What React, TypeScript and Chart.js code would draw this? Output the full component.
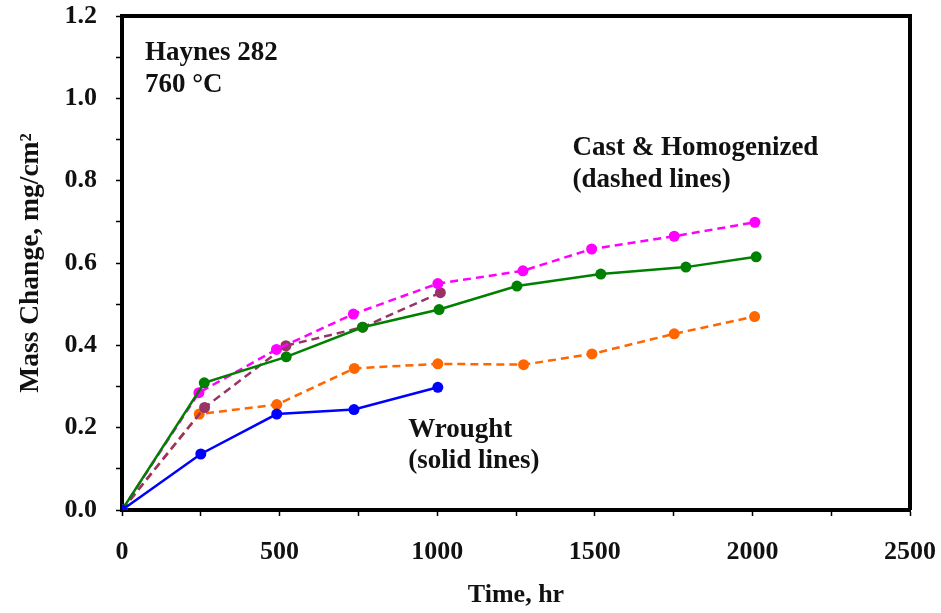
import React, { useEffect, useRef } from 'react';
import { Chart, registerables } from 'chart.js';

Chart.register(...registerables);

// Time (hr) and mass change (mg/cm2) per series
const wroughtBlueT = [0, 250, 491, 736, 1002];
const wroughtBlueV = [0, 0.136, 0.233, 0.244, 0.298];
const wroughtGreenT = [0, 261, 521, 763, 1006, 1253, 1519, 1789, 2012];
const wroughtGreenV = [0, 0.309, 0.372, 0.444, 0.487, 0.544, 0.573, 0.59, 0.615];
const castMagentaT = [0, 244, 490, 734, 1002, 1272, 1490, 1752, 2008];
const castMagentaV = [0, 0.285, 0.39, 0.476, 0.55, 0.581, 0.634, 0.665, 0.699];
const castMaroonT = [0, 262, 520, 764, 1010];
const castMaroonV = [0, 0.249, 0.399, 0.444, 0.528];
const castOrangeT = [0, 245, 491, 737, 1002, 1274, 1491, 1752, 2007];
const castOrangeV = [0, 0.233, 0.256, 0.344, 0.355, 0.353, 0.379, 0.428, 0.47];

// Text annotations anchored in data coordinates (time, mass change)
const noteTexts = ['Haynes 282', '760 \u00B0C', 'Cast & Homogenized', '(dashed lines)', 'Wrought', '(solid lines)'];
const noteT = [73, 73, 1429, 1429, 908, 908];
const noteV = [1.093, 1.015, 0.862, 0.785, 0.177, 0.102];

const FONT = "'Liberation Serif', 'Times New Roman', serif";

const pts = (t: number[], v: number[]) => t.map((x, i) => ({ x, y: v[i] }));

const mk = (label: string, t: number[], v: number[], color: string, dashed: boolean) => ({
  label,
  data: pts(t, v),
  borderColor: color,
  backgroundColor: color,
  pointBackgroundColor: color,
  pointBorderColor: color,
  pointRadius: 5.5,
  pointBorderWidth: 0,
  borderWidth: 2.5,
  borderDash: dashed ? [8, 5] : [],
  showLine: true,
  tension: 0,
  fill: false,
});

const framePlugin = {
  id: 'frameAndNotes',
  afterDraw(chart: any) {
    const { ctx, chartArea } = chart;
    const xs = chart.scales.x;
    const ys = chart.scales.y;
    ctx.save();
    ctx.strokeStyle = '#000';
    ctx.lineWidth = 4;
    ctx.beginPath();
    ctx.moveTo(chartArea.left, chartArea.top);
    ctx.lineTo(chartArea.right, chartArea.top);
    ctx.lineTo(chartArea.right, chartArea.bottom);
    ctx.stroke();
    ctx.fillStyle = '#111';
    ctx.font = `bold 27px ${FONT}`;
    ctx.textAlign = 'left';
    ctx.textBaseline = 'alphabetic';
    noteTexts.forEach((s, i) => {
      ctx.fillText(s, xs.getPixelForValue(noteT[i]), ys.getPixelForValue(noteV[i]));
    });
    ctx.restore();
  },
};

export default function App() {
  const ref = useRef<HTMLCanvasElement>(null);
  useEffect(() => {
    if (!ref.current) return;
    const chart = new Chart(ref.current, {
      type: 'scatter',
      data: {
        datasets: [
          mk('Wrought A', wroughtBlueT, wroughtBlueV, '#0000FF', false),
          mk('Wrought B', wroughtGreenT, wroughtGreenV, '#008000', false),
          mk('Cast A', castMagentaT, castMagentaV, '#FF00FF', true),
          mk('Cast B', castMaroonT, castMaroonV, '#993366', true),
          mk('Cast C', castOrangeT, castOrangeV, '#FF6600', true),
        ] as any,
      },
      options: {
        responsive: false,
        animation: false,
        layout: { padding: { left: 0, top: 16, right: 31, bottom: 0 } },
        plugins: { legend: { display: false }, tooltip: { enabled: false } },
        scales: {
          x: {
            type: 'linear',
            min: 0,
            max: 2500,
            afterFit(scale: any) {
              scale.height = 103;
              scale.paddingLeft = 0;
              scale.paddingRight = 0;
            },
            border: { display: true, color: '#000', width: 4 },
            grid: { display: true, drawOnChartArea: false, drawTicks: true, tickLength: 6, tickColor: '#000', tickWidth: 1.5 },
            ticks: {
              stepSize: 250,
              autoSkip: false,
              maxRotation: 0,
              padding: 21,
              color: '#111',
              font: { family: FONT, size: 26, weight: 'bold' },
              callback: (v: any) => (Math.round(v) % 500 === 0 ? String(Math.round(v)) : ''),
            },
            title: {
              display: true,
              text: 'Time, hr',
              color: '#111',
              font: { family: FONT, size: 26, weight: 'bold' },
              padding: { top: 0, bottom: 2 },
            },
          },
          y: {
            type: 'linear',
            min: 0,
            max: 1.2,
            afterFit(scale: any) {
              scale.width = 122;
              scale.paddingTop = 0;
              scale.paddingBottom = 0;
            },
            border: { display: true, color: '#000', width: 4 },
            grid: { display: true, drawOnChartArea: false, drawTicks: true, tickLength: 6, tickColor: '#000', tickWidth: 1.5 },
            ticks: {
              stepSize: 0.1,
              autoSkip: false,
              padding: 19,
              color: '#111',
              font: { family: FONT, size: 26, weight: 'bold' },
              callback: (v: any) => {
                const n = Math.round(v * 10);
                return n % 2 === 0 ? (n / 10).toFixed(1) : '';
              },
            },
            title: {
              display: true,
              text: 'Mass Change, mg/cm\u00B2',
              color: '#111',
              font: { family: FONT, size: 27.5, weight: 'bold' },
              padding: { top: 14, bottom: 0 },
            },
          },
        },
      } as any,
      plugins: [framePlugin],
    });
    return () => chart.destroy();
  }, []);
  return (
    <div style={{ position: 'absolute', left: 0, top: 0, width: 941, height: 613, background: '#fff' }}>
      <canvas ref={ref} width={941} height={613} style={{ display: 'block' }} />
    </div>
  );
}
